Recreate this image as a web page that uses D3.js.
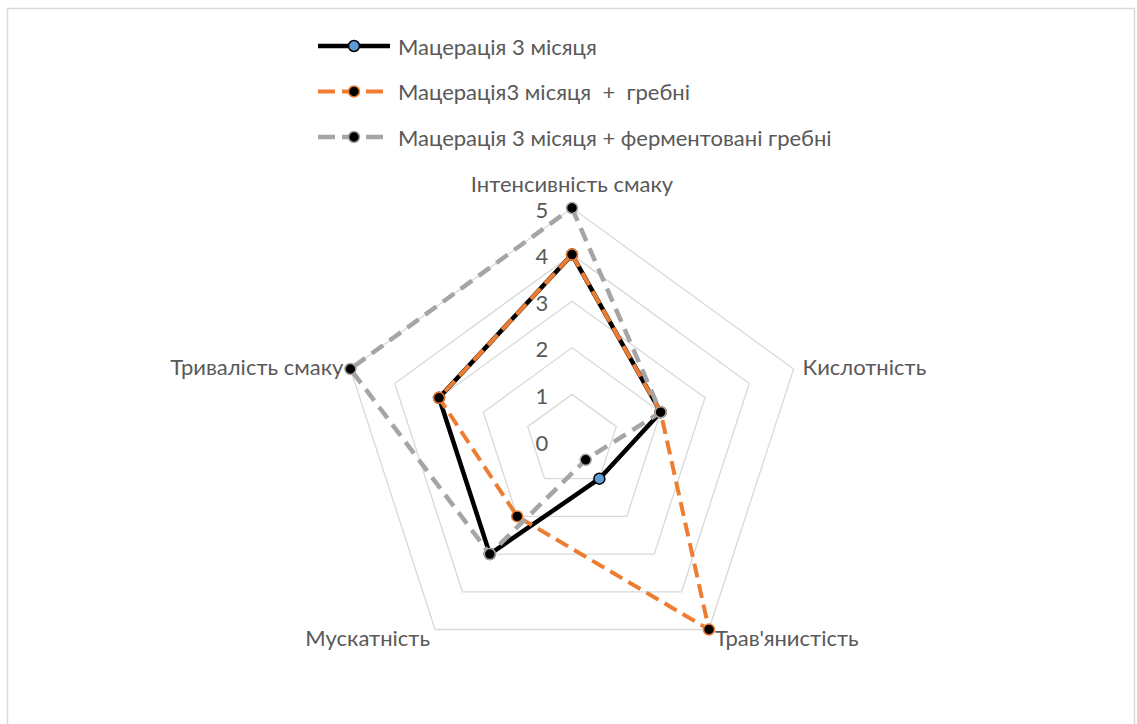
<!DOCTYPE html>
<html>
<head>
<meta charset="utf-8">
<script src="https://cdn.jsdelivr.net/npm/d3@7"></script>
<style>
  html, body { margin: 0; padding: 0; background: #fff; }
  svg { display: block; }
  text { font-family: Lato, "Open Sans", sans-serif; fill: #595959; }
</style>
</head>
<body>
<svg id="chart" width="1137" height="724"></svg>
<script>
const categories = ["Інтенсивність смаку", "Кислотність", "Трав'янистість", "Мускатність", "Тривалість смаку"];
const seriesNames = ["Мацерація 3 місяця", "Мацерація3 місяця  +  гребні", "Мацерація 3 місяця + ферментовані гребні"];
const maceration = [4, 2, 1, 3, 3];
const macerationStems = [4, 2, 5, 2, 3];
const macerationFermented = [5, 2, 0.5, 3, 5];
const tickValues = [0, 1, 2, 3, 4, 5];

const series = [
  { name: seriesNames[0], values: maceration, color: "#000000", width: 4.5, dash: null, mFill: "#5B9BD5", mStroke: "#000000", mR: 5.5 },
  { name: seriesNames[1], values: macerationStems, color: "#ED7D31", width: 4, dash: "14,7", mFill: "#000000", mStroke: "#ED7D31", mR: 5.5 },
  { name: seriesNames[2], values: macerationFermented, color: "#A5A5A5", width: 4.5, dash: "14,8", mFill: "#000000", mStroke: "#A5A5A5", mR: 5.5 }
];

const svg = d3.select("#chart");
const fontSize = 22;

// outer border
svg.append("rect").attr("x", 7.5).attr("y", 8.5).attr("width", 1127).attr("height", 730)
  .attr("fill", "none").attr("stroke", "#D9D9D9").attr("stroke-width", 1.5);

const cx = 572, cy = 441, R = 233;
const r = d3.scaleLinear().domain([0, 5]).range([0, R]);
const angle = d3.scaleBand().domain(categories).range([0, 2 * Math.PI]).paddingInner(0).paddingOuter(0);
const ang = c => angle(c) - Math.PI / 2;
const pt = (c, v) => [cx + r(v) * Math.cos(ang(c)), cy + r(v) * Math.sin(ang(c))];

const g = svg.append("g");

// grid pentagons
const gridLine = d3.line();
tickValues.filter(t => t > 0).forEach(t => {
  const pts = categories.map(c => pt(c, t));
  g.append("path").attr("d", gridLine(pts) + "Z")
    .attr("fill", "none").attr("stroke", "#D9D9D9").attr("stroke-width", 1.3);
});

// tick labels
g.selectAll(".tick").data(tickValues).join("text")
  .attr("class", "tick")
  .attr("x", cx - 30)
  .attr("y", d => cy - r(d) + 1)
  .attr("text-anchor", "middle")
  .attr("dominant-baseline", "central")
  .attr("font-size", fontSize)
  .text(d => d);

// series
const line = d3.lineRadial().angle(d => angle(d.c)).radius(d => r(d.v)).curve(d3.curveLinearClosed);
series.forEach(s => {
  const data = categories.map((c, i) => ({ c, v: s.values[i] }));
  const sg = g.append("g").attr("transform", `translate(${cx},${cy})`);
  sg.append("path").attr("d", line(data))
    .attr("fill", "none").attr("stroke", s.color).attr("stroke-width", s.width)
    .attr("stroke-linejoin", "round")
    .attr("stroke-dasharray", s.dash);
  g.selectAll(null).data(data).join("circle")
    .attr("cx", d => pt(d.c, d.v)[0]).attr("cy", d => pt(d.c, d.v)[1])
    .attr("r", s.mR).attr("fill", s.mFill).attr("stroke", s.mStroke).attr("stroke-width", 1.5);
});

// category labels
const labelPos = [
  { dx: 0, dy: -25, anchor: "middle" },
  { dx: 9, dy: -2, anchor: "start" },
  { dx: 6, dy: 8, anchor: "start" },
  { dx: -5, dy: 8, anchor: "end" },
  { dx: -7, dy: -2, anchor: "end" }
];
categories.forEach((c, i) => {
  const [x, y] = pt(c, 5);
  g.append("text").attr("x", x + labelPos[i].dx).attr("y", y + labelPos[i].dy)
    .attr("text-anchor", labelPos[i].anchor).attr("dominant-baseline", "central")
    .attr("font-size", fontSize).text(c);
});

// legend
const legendY = d3.scalePoint().domain(seriesNames).range([46, 137]);
series.forEach(s => {
  const y = legendY(s.name);
  svg.append("line").attr("x1", 318).attr("x2", 390).attr("y1", y).attr("y2", y)
    .attr("stroke", s.color).attr("stroke-width", s.width)
    .attr("stroke-dasharray", s.dash ? "17,7" : null);
  svg.append("circle").attr("cx", 354).attr("cy", y).attr("r", s.mR)
    .attr("fill", s.mFill).attr("stroke", s.mStroke).attr("stroke-width", 1.5);
  svg.append("text").attr("x", 398).attr("y", y).attr("dominant-baseline", "central")
    .attr("font-size", fontSize).attr("xml:space", "preserve").style("white-space", "pre").text(s.name);
});
</script>
</body>
</html>
